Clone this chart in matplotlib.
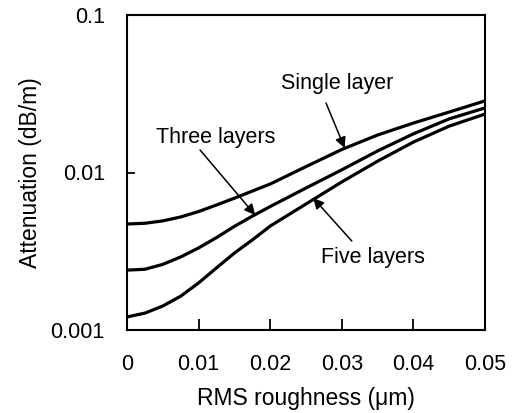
import matplotlib
matplotlib.use("Agg")
import matplotlib.pyplot as plt
from matplotlib.ticker import FixedLocator, FixedFormatter, NullLocator

plt.rcParams['font.family'] = ['Liberation Sans', 'DejaVu Sans']

roughness = [0.0, 0.0025, 0.005, 0.0075, 0.01, 0.0125, 0.015, 0.0175, 0.02,
             0.025, 0.03, 0.035, 0.04, 0.045, 0.05]
single_layer = [0.00471, 0.00476, 0.00493, 0.00522, 0.00565, 0.00622, 0.00687, 0.00762, 0.00845,
                0.0109, 0.0140, 0.0173, 0.0206, 0.0242, 0.0285]
three_layers = [0.00240, 0.00243, 0.00261, 0.00291, 0.00332, 0.00386, 0.00455, 0.00528, 0.00608,
                0.00797, 0.0104, 0.0137, 0.0176, 0.0219, 0.0257]
five_layers = [0.00121, 0.00128, 0.00142, 0.00164, 0.00199, 0.00248, 0.00308, 0.00373, 0.00457,
               0.00631, 0.00871, 0.0118, 0.0156, 0.0197, 0.0235]

x_ticks = [0, 0.01, 0.02, 0.03, 0.04, 0.05]
x_tick_labels = ["0", "0.01", "0.02", "0.03", "0.04", "0.05"]
y_ticks = [0.001, 0.01, 0.1]
y_tick_labels = ["0.001", "0.01", "0.1"]

FS = 15.5

fig = plt.figure(figsize=(5.24, 4.13), dpi=100)
ax = fig.add_axes([127/524, 1-330/413, (485-127)/524, (330-15)/413])

for series in (single_layer, three_layers, five_layers):
    ax.plot(roughness, series, color='black', lw=2.3, solid_capstyle='butt',
            solid_joinstyle='round')

ax.set_yscale('log')
ax.set_xlim(0, 0.05)
ax.set_ylim(0.001, 0.1)

ax.xaxis.set_major_locator(FixedLocator(x_ticks))
ax.xaxis.set_major_formatter(FixedFormatter(x_tick_labels))
ax.yaxis.set_major_locator(FixedLocator(y_ticks))
ax.yaxis.set_major_formatter(FixedFormatter(y_tick_labels))
ax.yaxis.set_minor_locator(NullLocator())
ax.xaxis.set_minor_locator(NullLocator())

ax.tick_params(axis='x', direction='in', length=8, width=1.3, pad=17, labelsize=FS)
ax.tick_params(axis='y', direction='in', length=6, width=1.3, pad=16, labelsize=FS)
for s in ax.spines.values():
    s.set_linewidth(1.5)

ax.set_xlabel("RMS roughness (\u03bcm)", fontsize=16.5, labelpad=9)
ax.set_ylabel("Attenuation (dB/m)", fontsize=16.5, labelpad=6)

arrow = dict(arrowstyle='-|>', color='black', lw=1.1, mutation_scale=16,
             shrinkA=0, shrinkB=0)
ax.text(0.0293, 0.0370, "Single layer", ha='center', va='center', fontsize=FS)
ax.annotate('', xy=(0.0304, 0.0143), xytext=(0.0278, 0.0276), arrowprops=arrow)

ax.text(0.0124, 0.0168, "Three layers", ha='center', va='center', fontsize=FS)
ax.annotate('', xy=(0.0179, 0.00537), xytext=(0.0102, 0.0139), arrowprops=arrow)

ax.text(0.0344, 0.00290, "Five layers", ha='center', va='center', fontsize=FS)
ax.annotate('', xy=(0.0260, 0.00689), xytext=(0.0314, 0.00367), arrowprops=arrow)

fig.savefig("out.png", dpi=100)
